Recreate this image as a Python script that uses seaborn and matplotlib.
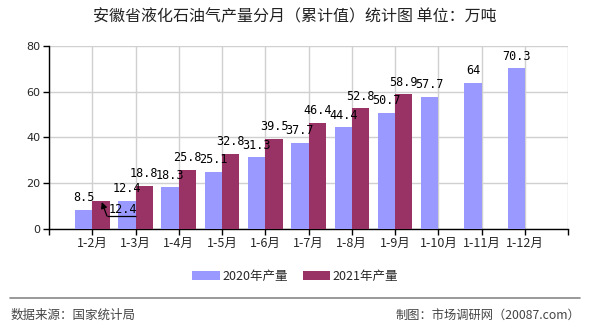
import matplotlib
matplotlib.use("Agg")
import matplotlib.pyplot as plt
import seaborn as sns
import pandas as pd
import numpy as np
from matplotlib.patches import Patch

categories = ["1-2月", "1-3月", "1-4月", "1-5月", "1-6月", "1-7月",
              "1-8月", "1-9月", "1-10月", "1-11月", "1-12月"]
output_2020 = [8.5, 12.4, 18.3, 25.1, 31.3, 37.7, 44.4, 50.7, 57.7, 64, 70.3]
output_2021 = [12.4, 18.8, 25.8, 32.8, 39.5, 46.4, 52.8, 58.9]
series_names = ["2020年产量", "2021年产量"]
colors = ["#9999FF", "#993366"]
title = "安徽省液化石油气产量分月（累计值）统计图 单位：万吨"
source_left = "数据来源：国家统计局"
source_right = "制图：市场调研网（20087.com）"

sns.set_theme(style="white")
plt.rcParams["font.family"] = ["Noto Sans CJK SC", "DejaVu Sans"]

rows = []
for i, c in enumerate(categories):
    rows.append({"cat": c, "series": series_names[0], "value": output_2020[i]})
    v = output_2021[i] if i < len(output_2021) else np.nan
    rows.append({"cat": c, "series": series_names[1], "value": v})
df = pd.DataFrame(rows)

fig = plt.figure(figsize=(5.9, 3.3), dpi=100)
ax = fig.add_axes([0.083, 0.306, 0.88, 0.555])

sns.barplot(data=df, x="cat", y="value", hue="series", order=categories,
            hue_order=series_names, palette=colors, width=0.8,
            saturation=1, ax=ax, legend=False, errorbar=None, zorder=3,
            linewidth=0, edgecolor="none")

ax.set_xlim(-1, len(categories))
ax.set_ylim(0, 80)
ax.set_yticks([0, 20, 40, 60, 80])
ax.set_xticks(range(-1, len(categories) + 1))
ax.set_xticklabels([""] + categories + [""])
ax.set_xlabel("")
ax.set_ylabel("")
ax.grid(True, color="#D0D0D0", linewidth=1, zorder=0)
ax.set_axisbelow(True)
for s in ["top", "right"]:
    ax.spines[s].set_visible(False)
for s in ["left", "bottom"]:
    ax.spines[s].set_color("black")
    ax.spines[s].set_linewidth(1)
ax.tick_params(axis="both", which="both", direction="out", length=4,
               width=1, color="black", labelsize=9, pad=2,
               left=True, bottom=True)
for lab in ax.get_yticklabels():
    lab.set_fontfamily("DejaVu Sans")
    lab.set_fontsize(8)

label_font = dict(fontfamily="DejaVu Sans Mono", fontsize=8.5, color="black")

# value labels: 2020 above every bar
c2020 = ax.containers[0]
ax.bar_label(c2020, labels=[f"{v:g}" for v in output_2020], padding=4,
             **label_font)
# 2021: first label is pushed aside with a leader line
c2021 = ax.containers[1]
labels_2021 = [""] + [f"{v:g}" for v in output_2021[1:]]
labels_2021 += [""] * (len(c2021) - len(labels_2021))
ax.bar_label(c2021, labels=labels_2021, padding=4, **label_font)

first = c2021[0]
tip_x = first.get_x() + first.get_width() * 0.55
tip_y = output_2021[0] * 0.95
elbow_x = first.get_x() + first.get_width() * 0.85
elbow_y = output_2021[0] * 0.46
ax.annotate("", xy=(tip_x, tip_y), xytext=(elbow_x, elbow_y),
            arrowprops=dict(arrowstyle="-|>", color="black", lw=0.9,
                            shrinkA=0, shrinkB=0, mutation_scale=9),
            zorder=5)
ax.plot([elbow_x, 1.0], [elbow_y, elbow_y], color="black", lw=0.9,
        zorder=5, solid_capstyle="butt")
ax.text(elbow_x + 0.03, output_2021[0] * 0.70, f"{output_2021[0]:g}",
        ha="left", va="center", zorder=6, **label_font)

fig.text(0.5, 0.948, title, ha="center", va="center", fontsize=11.5,
         color="#222222")

handles = [Patch(facecolor=c, edgecolor="none") for c in colors]
fig.legend(handles, series_names, loc="center", bbox_to_anchor=(0.5, 0.162),
           ncol=2, frameon=False, fontsize=9, handlelength=2.2,
           handleheight=0.8, columnspacing=1.2, handletextpad=0.2)

fig.add_artist(plt.Line2D([0.017, 0.983], [0.097, 0.097], color="#888888",
                          lw=1.2, transform=fig.transFigure))
fig.text(0.017, 0.045, source_left, ha="left", va="center", fontsize=9,
         color="#444444")
fig.text(0.983, 0.045, source_right, ha="right", va="center", fontsize=8.8,
         color="#444444")

fig.savefig("out.png", dpi=100)
